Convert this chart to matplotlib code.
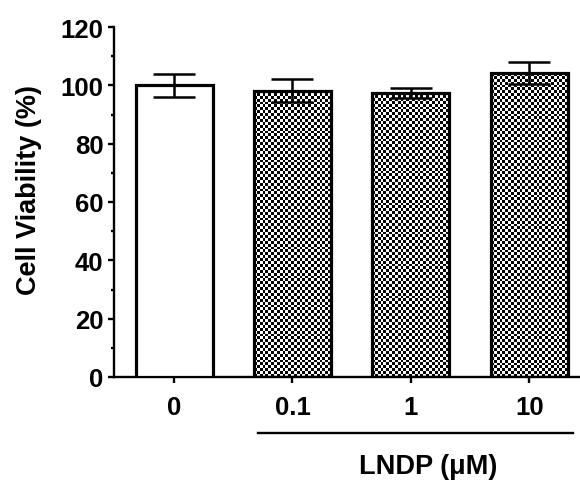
import numpy as np
import matplotlib
matplotlib.use("Agg")
import matplotlib.pyplot as plt

# values
labels = ["0", "0.1", "1", "10"]
viability = [100.0, 98.2, 97.5, 104.1]
sem = [4.0, 4.0, 1.7, 3.8]
hatched = [False, True, True, True]

plt.rcParams["font.family"] = ["Liberation Sans", "DejaVu Sans"]
plt.rcParams["font.weight"] = "bold"

fig = plt.figure(figsize=(5.8, 4.81), dpi=100)
ax = fig.add_axes([114 / 580, 103 / 481, 465 / 580, 350 / 481])

x = np.arange(len(labels))
width = 0.65
ax.set_xlim(-0.507, 3.42)
ax.set_ylim(0, 120)

bars = ax.bar(x, viability, width, color="white", edgecolor="black",
              linewidth=2.3, zorder=3)

# checkerboard fill, clipped to each bar
px_x = ax.transData.transform([(1, 0)])[0][0] - ax.transData.transform([(0, 0)])[0][0]
px_y = ax.transData.transform([(0, 1)])[0][1] - ax.transData.transform([(0, 0)])[0][1]
cell = 2.9
for i, bar in enumerate(bars):
    if not hatched[i]:
        continue
    ncol = int(round(width * px_x / cell))
    nrow = int(round(viability[i] * px_y / cell))
    board = np.indices((nrow, ncol)).sum(axis=0) % 2
    im = ax.imshow(board, cmap="gray", interpolation="nearest", aspect="auto",
                   extent=(x[i] - width / 2, x[i] + width / 2, 0, viability[i]),
                   zorder=2)
    im.set_clip_path(bar)
    bar.set_facecolor("none")

ax.errorbar(x, viability, yerr=sem, fmt="none", ecolor="black",
            elinewidth=1.8, capsize=15, capthick=1.8, zorder=4)

ax.set_xlim(-0.507, 3.42)
ax.set_ylim(0, 120)

for side in ["top", "right"]:
    ax.spines[side].set_visible(False)
for side in ["left", "bottom"]:
    ax.spines[side].set_linewidth(1.7)

ax.set_yticks(np.arange(0, 121, 20))
ax.set_yticks(np.arange(10, 120, 20), minor=True)
ax.set_xticks(x)
ax.set_xticklabels(labels)
ax.tick_params(axis="both", which="major", labelsize=18.5, width=1.7, length=4, pad=3.5)
ax.tick_params(axis="y", which="minor", width=1.7, length=2.5)
ax.tick_params(axis="x", which="major", pad=9)

ax.set_ylabel("Cell Viability (%)", fontsize=19.5, fontweight="bold")
ax.yaxis.set_label_coords(-0.155, 0.537)

# group line and label under the LNDP bars
ax.plot([x[1] - 0.29, x[3] + 0.37], [-19.2, -19.2], color="black",
        linewidth=1.7, clip_on=False)
ax.text(2.15, -30.5, "LNDP (\u03bcM)", fontsize=19.5, fontweight="bold",
        ha="center", va="center", clip_on=False)

fig.savefig("out.png", dpi=100)
